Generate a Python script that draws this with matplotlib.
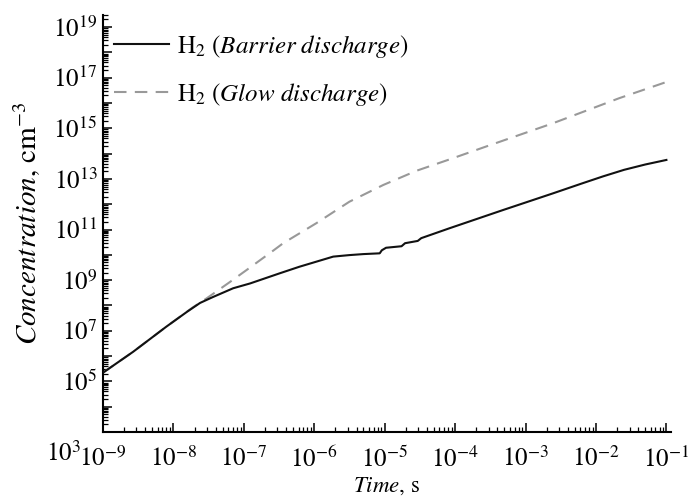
import numpy as np
import matplotlib
matplotlib.use("Agg")
import matplotlib.pyplot as plt
from matplotlib.ticker import LogLocator, FuncFormatter, NullFormatter


# ============================================================
# Data (exponents)
# ============================================================

barrier_log_t = [-9.0, -8.57, -8.10, -7.80, -7.62, -7.44, -7.15, -6.91, -6.49,
                 -6.21, -5.73, -5.50, -5.30, -5.07, -5.04, -4.98, -4.76, -4.71,
                 -4.53, -4.48, -4.08, -3.32, -2.61, -2.20, -1.90, -1.60, -1.30,
                 -1.0]
barrier_log_c = [5.34, 6.17, 7.16, 7.76, 8.10, 8.33, 8.68, 8.87, 9.27,
                 9.53, 9.93, 9.99, 10.03, 10.06, 10.18, 10.28, 10.34, 10.46,
                 10.55, 10.66, 11.05, 11.77, 12.43, 12.82, 13.10, 13.36, 13.57,
                 13.75]

glow_log_t = [-9.0, -8.57, -8.10, -7.72, -7.58, -7.44, -7.20, -6.96, -6.58,
              -6.44, -5.97, -5.50, -5.02, -4.55, -4.08, -3.56, -2.61, -1.67, -1.0]
glow_log_c = [5.34, 6.17, 7.16, 7.93, 8.18, 8.45, 8.92, 9.40, 10.17,
              10.46, 11.25, 12.10, 12.76, 13.32, 13.77, 14.28, 15.20, 16.19, 16.83]

x_decades = list(range(-9, 0))
y_label_decades = list(range(5, 20, 2))   # 10^3 is placed by hand at the corner


# ============================================================
# Style
# ============================================================

plt.rcParams.update({
    "font.family": "STIXGeneral",
    "mathtext.fontset": "stix",
    "font.size": 18,
})


def y_fmt(val, pos):
    n = int(round(np.log10(val)))
    if n in y_label_decades:
        return f"$10^{{{n}}}$"
    return ""


def x_fmt(val, pos):
    n = int(round(np.log10(val)))
    if n in x_decades:
        return f"$10^{{{n}}}$"
    return ""


# ============================================================
# Plot
# ============================================================

fig = plt.figure(figsize=(6.95, 5.0), dpi=100)
ax = fig.add_axes([0.148, 0.136, 0.817, 0.834])

t_b = 10.0 ** np.array(barrier_log_t)
c_b = 10.0 ** np.array(barrier_log_c)
t_g = 10.0 ** np.array(glow_log_t)
c_g = 10.0 ** np.array(glow_log_c)

ax.plot(t_b, c_b, color="#111111", lw=1.5,
        label=r"H$_2$ ($\mathit{Barrier\ discharge}$)", zorder=3)
ax.plot(t_g, c_g, color="#999999", lw=1.5, dashes=(6, 4),
        label=r"H$_2$ ($\mathit{Glow\ discharge}$)", zorder=2)

ax.set_xscale("log")
ax.set_yscale("log")
ax.set_xlim(1e-9, 1.15e-1)
ax.set_ylim(1e3, 3e19)

ax.xaxis.set_major_locator(LogLocator(base=10, numticks=20))
ax.xaxis.set_minor_locator(LogLocator(base=10, subs=np.arange(2, 10), numticks=50))
ax.xaxis.set_major_formatter(FuncFormatter(x_fmt))
ax.xaxis.set_minor_formatter(NullFormatter())

ax.yaxis.set_major_locator(LogLocator(base=10, numticks=30))
ax.yaxis.set_minor_locator(LogLocator(base=10, subs=np.arange(2, 10), numticks=100))
ax.yaxis.set_major_formatter(FuncFormatter(y_fmt))
ax.yaxis.set_minor_formatter(NullFormatter())

for side in ["top", "right"]:
    ax.spines[side].set_visible(False)
for side in ["left", "bottom"]:
    ax.spines[side].set_linewidth(1.5)

ax.tick_params(which="major", direction="in", length=6.5, width=1.1,
               labelsize=18)
ax.tick_params(axis="y", which="major", pad=4)
ax.tick_params(axis="x", which="major", pad=11)
ax.tick_params(which="minor", direction="in", length=3.5, width=0.9)

# 10^3 sits lower-left of the corner so it does not run into 10^-9
ax.annotate("$10^{3}$", xy=(0, 1e3), xycoords=("axes fraction", "data"),
            xytext=(-16, -16), textcoords="offset points",
            ha="right", va="center", fontsize=18)

ax.set_xlabel(r"$\mathit{Time}$, s", fontsize=16.5, labelpad=2)
ax.set_ylabel(r"$\mathit{Concentration}$, cm$^{-3}$", fontsize=21, labelpad=7)

ax.legend(loc="upper left", bbox_to_anchor=(0.02, 0.958), frameon=False,
          handlelength=2.2, handletextpad=0.3, labelspacing=0.85,
          borderaxespad=0.0, borderpad=0.0, fontsize=18)

fig.savefig("out.png", dpi=100)
